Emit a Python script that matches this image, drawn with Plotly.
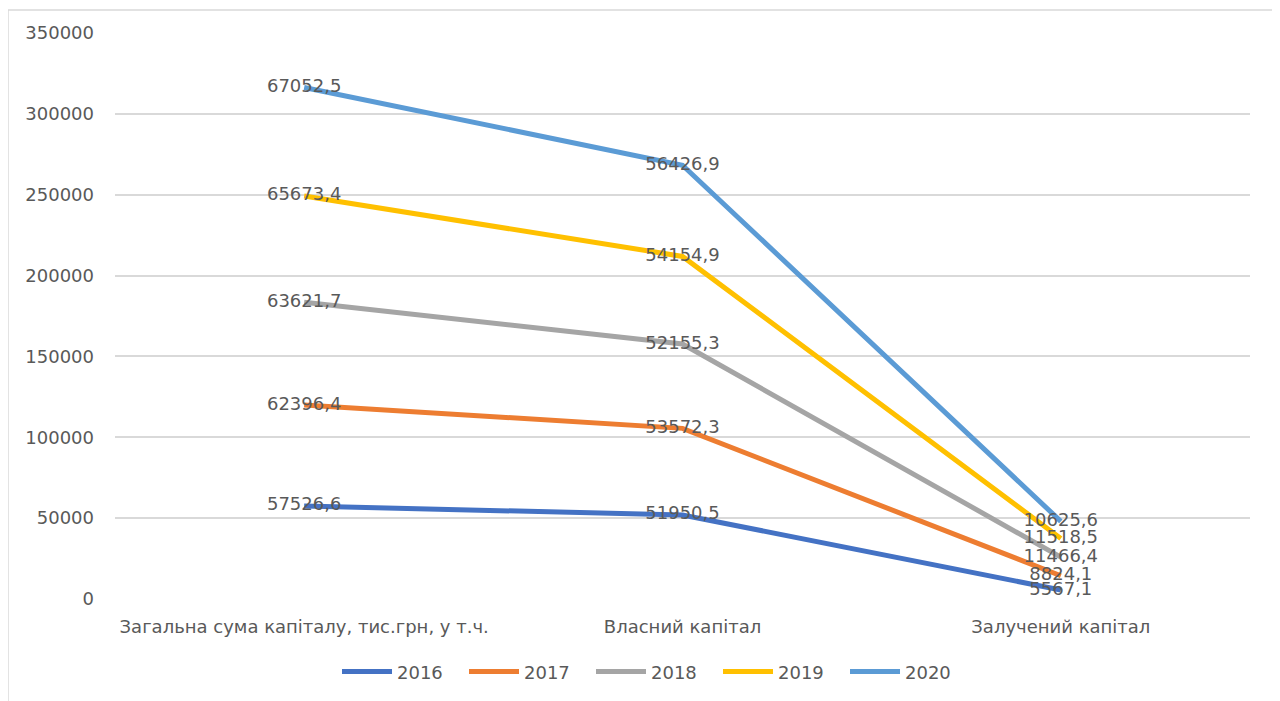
import plotly.graph_objects as go

# Data
categories = ["Загальна сума капіталу, тис.грн, у т.ч.", "Власний капітал", "Залучений капітал"]
years = ["2016", "2017", "2018", "2019", "2020"]
values_2016 = [57526.6, 51950.5, 5567.1]
values_2017 = [62396.4, 53572.3, 8824.1]
values_2018 = [63621.7, 52155.3, 11466.4]
values_2019 = [65673.4, 54154.9, 11518.5]
values_2020 = [67052.5, 56426.9, 10625.6]
y_ticks = [0, 50000, 100000, 150000, 200000, 250000, 300000, 350000]

series = [values_2016, values_2017, values_2018, values_2019, values_2020]
COLORS = ["#4472C4", "#ED7D31", "#A5A5A5", "#FFC000", "#5B9BD5"]
TEXT_GRAY = "#595959"
GRID = "#D9D9D9"
FONT = "DejaVu Sans"


def fmt(v):
    return f"{v:.1f}".replace(".", ",")


fig = go.Figure()

# stacked lines
for year, vals, col in zip(years, series, COLORS):
    fig.add_trace(go.Scatter(
        x=categories, y=vals, name=year,
        stackgroup="lines", fill="none", mode="lines",
        line=dict(color=col, width=5),
        hoverinfo="skip",
    ))

# data labels drawn above all lines
for year, vals in zip(years, series):
    fig.add_trace(go.Scatter(
        x=categories, y=vals,
        stackgroup="labels", fill="none", mode="text",
        text=[fmt(v) for v in vals],
        textposition="middle center",
        textfont=dict(family=FONT, size=18, color=TEXT_GRAY),
        showlegend=False, hoverinfo="skip",
    ))

# the page body adds 8px, so the figure is 8px smaller and margins shifted
fig.update_layout(
    width=1272, height=693,
    margin=dict(l=107, r=30, t=25, b=101),
    plot_bgcolor="white", paper_bgcolor="white",
    font=dict(family=FONT, color=TEXT_GRAY, size=18),
    legend=dict(
        orientation="h", x=0.1956, xanchor="left", y=-0.094, yanchor="top",
        font=dict(family=FONT, size=18, color=TEXT_GRAY),
        itemwidth=50, entrywidth=62, traceorder="normal",
    ),
    xaxis=dict(
        range=[-0.5, 2.5],
        showgrid=False, showline=False, zeroline=False,
        tickfont=dict(family=FONT, size=18, color=TEXT_GRAY),
        ticklabelstandoff=15,
    ),
    yaxis=dict(
        range=[0, 350000], tickvals=y_ticks, tickformat="d",
        showgrid=True, gridcolor=GRID, gridwidth=1.5,
        zeroline=False, showline=False,
        tickfont=dict(family=FONT, size=18, color=TEXT_GRAY),
        ticklabelstandoff=20,
    ),
    shapes=[dict(
        type="rect", xref="paper", yref="paper",
        x0=-0.0943, x1=1.0203, y0=-0.194, y1=1.0406,
        line=dict(color=GRID, width=1.5), layer="below",
    )],
)

fig.write_html("out.html")
